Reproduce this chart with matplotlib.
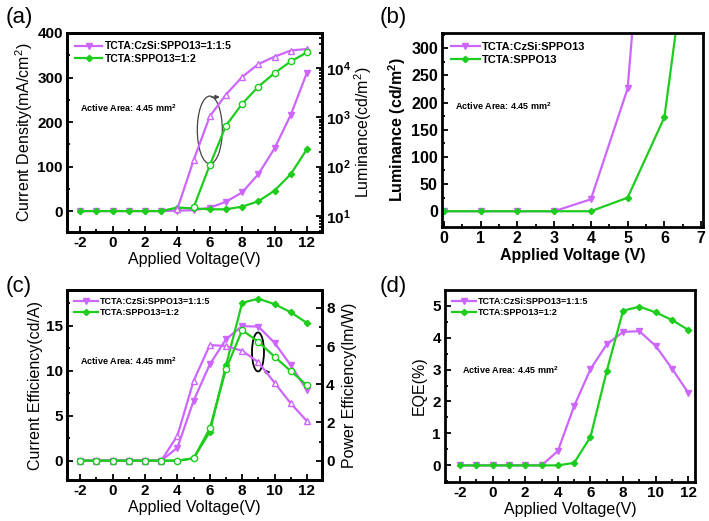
import numpy as np
import matplotlib
matplotlib.use("Agg")
import matplotlib.pyplot as plt
from matplotlib.patches import Ellipse
from matplotlib.ticker import MultipleLocator, LogLocator, NullFormatter

plt.rcParams['font.family'] = ['Liberation Sans', 'DejaVu Sans']
plt.rcParams['mathtext.fontset'] = 'custom'
plt.rcParams['mathtext.rm'] = 'Liberation Sans'
plt.rcParams['mathtext.bf'] = 'Liberation Sans:bold'
plt.rcParams['axes.unicode_minus'] = False

# ========================= DATA =========================
volt = np.arange(-2, 13)                     # -2 .. 12 V
volt_lum_p = np.arange(4, 13)
volt_lum_g = np.arange(5, 13)

# (a) densidade de corrente (mA/cm2)
j_purple = [0, 0, 0, 0, 0, 0, 1, 2, 7.5, 21, 42, 83, 141, 216, 311]
j_green = [0, 0, 0, 0, 0, 0, 8, 6, 4, 4, 10, 22, 46, 83, 139]
# (a) luminância (cd/m2) – eixo log
lum_purple = [14, 135, 1050, 2900, 6600, 12000, 17000, 22600, 24300]
lum_green = [15, 107, 680, 1880, 4200, 7900, 13600, 20700]

# (b) luminância em baixa tensão
volt_b_p = [0, 1, 2, 3, 4, 5, 6]
lum_b_p = [0, 0, 0, 0, 22, 226, 1050]
volt_b_g = [0, 1, 2, 3, 4, 5, 6, 7]
lum_b_g = [0, 0, 0, 0, 0, 25, 173, 680]

# (c) eficiência de corrente (cd/A) e de potência (lm/W)
ce_purple = [0, 0, 0, 0, 0, 0, 1.44, 6.67, 10.7, 13.5, 14.96, 14.9, 13.1, 10.6, 7.85]
ce_green = [0, 0, 0, 0, 0, 0, 0, 0.26, 3.2, 10.6, 17.55, 18.0, 17.4, 16.5, 15.3]
pe_purple = [0, 0, 0, 0, 0, 0, 1.31, 4.18, 6.05, 6.0, 5.75, 5.15, 4.08, 3.0, 2.07]
pe_green = [0, 0, 0, 0, 0, 0, 0, 0.12, 1.69, 4.79, 6.83, 6.22, 5.44, 4.69, 3.95]

# (d) EQE (%)
eqe_purple = [0, 0, 0, 0, 0, 0, 0.45, 1.86, 3.01, 3.79, 4.18, 4.2, 3.74, 3.03, 2.27]
eqe_green = [0, 0, 0, 0, 0, 0, 0, 0.08, 0.89, 2.96, 4.84, 4.97, 4.79, 4.55, 4.24]

lab_p = "TCTA:CzSi:SPPO13=1:1:5"
lab_g = "TCTA:SPPO13=1:2"
area_txt = r"Active Area: 4.45 mm$^\mathbf{2}$"

PURPLE = "#CC66FF"
GREEN = "#1ECC1E"

W, H = 709, 521
fig = plt.figure(figsize=(W / 100, H / 100), dpi=100)

def rect(l, t, r, b):
    return [l / W, 1 - b / H, (r - l) / W, (b - t) / H]

def style(ax, right_ticks=False, lsize=11):
    for s in ax.spines.values():
        s.set_linewidth(2.0)
    ax.tick_params(which="both", direction="in", top=False, right=right_ticks,
                   labelsize=lsize, width=1.3, pad=3)
    ax.tick_params(which="major", length=4)
    ax.tick_params(which="minor", length=2.2)
    for t in ax.get_xticklabels() + ax.get_yticklabels():
        t.set_fontweight("bold")

def legend(ax, fs):
    lg = ax.legend(loc="upper left", frameon=False, handlelength=2.6,
                   borderaxespad=0.4, labelspacing=0.25, handletextpad=0.2,
                   prop={"weight": "bold", "size": fs})
    return lg

kw_p = dict(color=PURPLE, marker="v", ms=5, lw=1.6)
kw_g = dict(color=GREEN, marker="D", ms=3.2, lw=1.6)
kw_po = dict(color=PURPLE, marker="^", ms=5, lw=1.6, mfc="white")
kw_go = dict(color=GREEN, marker="o", ms=4.5, lw=1.6, mfc="white")

# ---------------- (a) ----------------
ax = fig.add_axes(rect(67, 33, 322, 232))
ax.plot(volt, j_purple, label=lab_p, **kw_p)
ax.plot(volt, j_green, label=lab_g, **kw_g)
ax.set_xlim(-2.82, 12.93)
ax.set_ylim(-47, 400)
ax.xaxis.set_major_locator(MultipleLocator(2))
ax.xaxis.set_minor_locator(MultipleLocator(1))
ax.yaxis.set_major_locator(MultipleLocator(100))
ax.yaxis.set_minor_locator(MultipleLocator(50))
ax.set_xlabel("Applied Voltage(V)", fontsize=11.5, labelpad=1)
ax.set_ylabel("Current Density(mA/cm$^2$)", fontsize=11.5, labelpad=2)
style(ax)
legend(ax, 7.5)
ax.text(0.05, 0.605, area_txt, transform=ax.transAxes, fontsize=6.5, fontweight="bold")
ax.add_patch(Ellipse((0.56, 0.513), 0.098, 0.34, transform=ax.transAxes,
                     fill=False, ec="#444444", lw=0.9))
ax.annotate("", xy=(0.61, 0.678), xytext=(0.555, 0.678), xycoords="axes fraction",
            arrowprops=dict(arrowstyle="-|>", color="#444444", lw=0.9, mutation_scale=6))
axr = ax.twinx()
axr.plot(volt_lum_p, lum_purple, **kw_po)
axr.plot(volt_lum_g, lum_green, **kw_go)
axr.set_yscale("log")
axr.set_ylim(10 ** 0.675, 10 ** 4.71)
axr.yaxis.set_major_locator(LogLocator(base=10, numticks=10))
axr.yaxis.set_minor_locator(LogLocator(base=10, subs=np.arange(2, 10), numticks=10))
axr.yaxis.set_minor_formatter(NullFormatter())
axr.set_ylabel("Luminance(cd/m$^2$)", fontsize=11.5, labelpad=1)
style(axr, right_ticks=True)
fig.text(0.008, 0.955, "(a)", fontsize=16)

# ---------------- (b) ----------------
ax = fig.add_axes(rect(442, 33, 703, 227))
ax.plot(volt_b_p, lum_b_p, label="TCTA:CzSi:SPPO13", **kw_p)
ax.plot(volt_b_g, lum_b_g, label="TCTA:SPPO13", **kw_g)
ax.set_xlim(-0.05, 7.05)
ax.set_ylim(-29, 328)
ax.xaxis.set_major_locator(MultipleLocator(1))
ax.xaxis.set_minor_locator(MultipleLocator(0.5))
ax.yaxis.set_major_locator(MultipleLocator(50))
ax.yaxis.set_minor_locator(MultipleLocator(25))
ax.set_xlabel("Applied Voltage (V)", fontsize=11.5, fontweight="bold", labelpad=1)
ax.set_ylabel(r"Luminance (cd/m$^\mathbf{2}$)", fontsize=11.5, fontweight="bold", labelpad=2)
style(ax, lsize=11.5)
legend(ax, 8)
ax.text(0.05, 0.603, area_txt, transform=ax.transAxes, fontsize=6.5, fontweight="bold")
fig.text(0.535, 0.955, "(b)", fontsize=16)

# ---------------- (c) ----------------
ax = fig.add_axes(rect(67, 290, 322, 480))
ax.plot(volt, ce_purple, label=lab_p, **kw_p)
ax.plot(volt, ce_green, label=lab_g, **kw_g)
ax.set_xlim(-2.82, 12.93)
ax.set_ylim(-2.15, 18.97)
ax.xaxis.set_major_locator(MultipleLocator(2))
ax.xaxis.set_minor_locator(MultipleLocator(1))
ax.yaxis.set_major_locator(MultipleLocator(5))
ax.yaxis.set_minor_locator(MultipleLocator(2.5))
ax.set_xlabel("Applied Voltage(V)", fontsize=11.5, labelpad=1)
ax.set_ylabel("Current Efficiency(cd/A)", fontsize=11.5, labelpad=2)
style(ax)
legend(ax, 6.5)
ax.text(0.05, 0.605, area_txt, transform=ax.transAxes, fontsize=6.5, fontweight="bold")
ax.add_patch(Ellipse((0.749, 0.674), 0.047, 0.205, transform=ax.transAxes,
                     fill=False, ec="black", lw=1.3))
ax.annotate("", xy=(0.81, 0.568), xytext=(0.765, 0.568), xycoords="axes fraction",
            arrowprops=dict(arrowstyle="-|>", color="#333333", lw=0.9, mutation_scale=6))
axr = ax.twinx()
axr.plot(volt, pe_purple, **kw_po)
axr.plot(volt, pe_green, **kw_go)
axr.set_ylim(-1.01, 8.93)
axr.yaxis.set_major_locator(MultipleLocator(2))
axr.yaxis.set_minor_locator(MultipleLocator(1))
axr.set_ylabel("Power Efficiency(lm/W)", fontsize=11.5, labelpad=5)
style(axr, right_ticks=True)
fig.text(0.008, 0.44, "(c)", fontsize=16)

# ---------------- (d) ----------------
ax = fig.add_axes(rect(445, 290, 695, 482))
ax.plot(volt, eqe_purple, label=lab_p, **kw_p)
ax.plot(volt, eqe_green, label=lab_g, **kw_g)
ax.set_xlim(-2.92, 12.41)
ax.set_ylim(-0.52, 5.49)
ax.xaxis.set_major_locator(MultipleLocator(2))
ax.xaxis.set_minor_locator(MultipleLocator(1))
ax.yaxis.set_major_locator(MultipleLocator(1))
ax.yaxis.set_minor_locator(MultipleLocator(0.5))
ax.set_xlabel("Applied Voltage(V)", fontsize=11.5, labelpad=1)
ax.set_ylabel("EQE(%)", fontsize=11.5, labelpad=4)
style(ax)
legend(ax, 6.5)
ax.text(0.07, 0.5625, area_txt, transform=ax.transAxes, fontsize=6.5, fontweight="bold")
fig.text(0.535, 0.44, "(d)", fontsize=16)

fig.savefig("out.png", dpi=100)
